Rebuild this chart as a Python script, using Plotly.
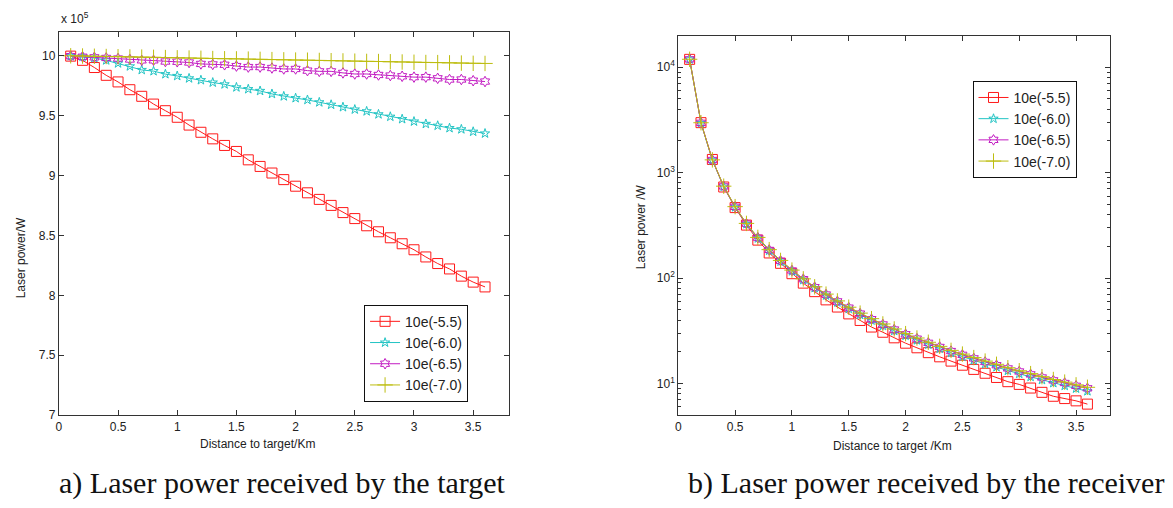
import plotly.graph_objects as go

# ---------------- data ----------------
distance_km = [round(0.1 * i, 1) for i in range(1, 37)]
series_names = ["10e(-5.5)", "10e(-6.0)", "10e(-6.5)", "10e(-7.0)"]

# (a) Laser power received by the target, in units of 1e5 W
target_55 = [9.995, 9.96, 9.90, 9.835, 9.78, 9.715, 9.66, 9.595, 9.54, 9.485,
             9.42, 9.36, 9.305, 9.25, 9.20, 9.13, 9.075, 9.02, 8.965, 8.91,
             8.855, 8.80, 8.75, 8.69, 8.64, 8.58, 8.53, 8.48, 8.43, 8.38,
             8.32, 8.265, 8.22, 8.16, 8.11, 8.07]
target_60 = [9.995, 9.99, 9.98, 9.96, 9.935, 9.91, 9.88, 9.87, 9.845, 9.83,
             9.81, 9.795, 9.775, 9.76, 9.735, 9.72, 9.705, 9.68, 9.66, 9.645,
             9.63, 9.61, 9.59, 9.57, 9.55, 9.535, 9.51, 9.49, 9.47, 9.45,
             9.43, 9.415, 9.395, 9.385, 9.365, 9.35]
target_65 = [9.995, 9.99, 9.985, 9.98, 9.975, 9.967, 9.96, 9.96, 9.95, 9.948,
             9.942, 9.93, 9.926, 9.923, 9.912, 9.904, 9.904, 9.896, 9.888, 9.888,
             9.874, 9.868, 9.868, 9.855, 9.846, 9.846, 9.838, 9.833, 9.827, 9.82,
             9.82, 9.81, 9.80, 9.80, 9.79, 9.783]
target_70 = [9.998, 9.996, 9.994, 9.992, 9.990, 9.988, 9.987, 9.985, 9.983, 9.981,
             9.979, 9.977, 9.975, 9.973, 9.972, 9.970, 9.968, 9.966, 9.964, 9.962,
             9.961, 9.959, 9.957, 9.955, 9.953, 9.951, 9.950, 9.948, 9.946, 9.944,
             9.942, 9.941, 9.939, 9.937, 9.935, 9.934]

# (b) Laser power received by the receiver, W
recv_55 = [11880, 2980, 1334, 731, 466, 318, 229, 173, 138, 110,
           89.5, 74.3, 62.1, 53.1, 45.7, 39.6, 34.3, 30.6, 27.1, 24.1,
           21.8, 19.6, 17.9, 16.3, 14.9, 13.6, 12.5, 11.4, 10.4, 9.8,
           9.05, 8.24, 7.56, 7.19, 6.84, 6.37]
recv_60 = [11870, 2960, 1311, 736, 470, 325, 238, 182, 143.5, 116,
           95.9, 80.4, 68.4, 58.8, 51.1, 44.8, 39.6, 35.2, 31.5, 28.4,
           25.7, 23.4, 21.4, 19.5, 17.95, 16.6, 15.3, 14.3, 13.2, 12.35,
           11.55, 10.8, 10.1, 9.5, 8.95, 8.45]
recv_65 = [11890, 2970, 1318, 741, 474, 328, 241.5, 184.8, 145.9, 118.1,
           97.6, 81.9, 69.8, 60.1, 52.4, 46.0, 40.7, 36.3, 32.5, 29.3,
           26.6, 24.3, 22.2, 20.3, 18.7, 17.3, 16.0, 14.9, 13.9, 13.0,
           12.2, 11.4, 10.7, 10.1, 9.5, 9.0]
recv_70 = [11900, 2975, 1322, 744, 476, 330, 243, 186, 147, 119,
           98.3, 82.6, 70.4, 60.7, 52.9, 46.5, 41.2, 36.7, 32.9, 29.7,
           27.0, 24.6, 22.5, 20.6, 19.0, 17.6, 16.3, 15.2, 14.1, 13.2,
           12.4, 11.6, 10.9, 10.3, 9.7, 9.2]

x_ticks = [0, 0.5, 1, 1.5, 2, 2.5, 3, 3.5]
y_ticks_a = [7, 7.5, 8, 8.5, 9, 9.5, 10]
y_ticks_b = [10, 100, 1000, 10000]
y_ticktext_b = ["10<sup>1</sup>", "10<sup>2</sup>", "10<sup>3</sup>", "10<sup>4</sup>"]

# ---------------- styles ----------------
colors = ["#FF1A1A", "#22C4C4", "#C21BC2", "#BDBD10"]
symbols = ["square-open", "star-open", "hexagram-open", "cross-thin-open"]
msizes = [10, 7, 8, 11]

fig = go.Figure()
left_series = [target_55, target_60, target_65, target_70]
right_series = [recv_55, recv_60, recv_65, recv_70]

for i, (name, ys) in enumerate(zip(series_names, left_series)):
    fig.add_trace(go.Scatter(
        x=distance_km, y=ys, name=name, mode="lines+markers",
        line=dict(color=colors[i], width=1),
        marker=dict(symbol=symbols[i], size=msizes[i], color=colors[i],
                    line=dict(color=colors[i], width=1)),
        xaxis="x", yaxis="y", legend="legend"))

for i, (name, ys) in enumerate(zip(series_names, right_series)):
    fig.add_trace(go.Scatter(
        x=distance_km, y=ys, name=name, mode="lines+markers",
        line=dict(color=colors[i], width=1),
        marker=dict(symbol=symbols[i], size=msizes[i], color=colors[i],
                    line=dict(color=colors[i], width=1)),
        xaxis="x2", yaxis="y2", legend="legend2"))

W, H = 1173, 508
tick_font = dict(family="Liberation Sans, Arial", size=12, color="#222")
axis_common = dict(showline=True, linecolor="#333", linewidth=1, mirror="allticks",
                   ticks="inside", ticklen=5, tickcolor="#333", showgrid=False,
                   zeroline=False, tickfont=tick_font)
legend_font = dict(family="Liberation Sans, Arial", size=14, color="#222")

fig.update_layout(
    width=W, height=H, margin=dict(l=0, r=0, t=0, b=0),
    paper_bgcolor="white", plot_bgcolor="white",
    xaxis=dict(domain=[56 / W, 507 / W], range=[0, 3.8], tickvals=x_ticks,
               anchor="y", **axis_common),
    yaxis=dict(domain=[(H - 421) / H, (H - 32) / H], range=[7, 10.2],
               tickvals=y_ticks_a, anchor="x", **axis_common),
    xaxis2=dict(domain=[677 / W, 1110 / W], range=[0, 3.8], tickvals=x_ticks,
                anchor="y2", **axis_common),
    yaxis2=dict(domain=[(H - 421) / H, (H - 36) / H], type="log",
                range=[0.69897, 4.30103], tickvals=y_ticks_b, ticktext=y_ticktext_b,
                minor=dict(ticks="inside", ticklen=3, tickcolor="#333", dtick="D1"),
                anchor="x2", **axis_common),
    legend=dict(x=362 / W, y=(H - 309) / H, xanchor="left", yanchor="top",
                bordercolor="#111", borderwidth=1, bgcolor="white", font=legend_font),
    legend2=dict(x=972 / W, y=(H - 82) / H, xanchor="left", yanchor="top",
                 bordercolor="#111", borderwidth=1, bgcolor="white", font=legend_font),
    showlegend=True,
)

small = dict(family="Liberation Sans, Arial", size=12, color="#222")
serif = dict(family="Liberation Serif, Times New Roman", size=30, color="#111")
annotations = [
    dict(x=56 / W, y=(H - 18) / H, text="x 10<sup>5</sup>", font=small,
         xanchor="left", yanchor="middle"),
    dict(x=18 / W, y=(H - 261) / H, text="Laser power/W", font=small, textangle=-90,
         xanchor="center", yanchor="middle"),
    dict(x=255 / W, y=(H - 450) / H, text="Distance to target/Km", font=small,
         xanchor="center", yanchor="middle"),
    dict(x=639 / W, y=(H - 230) / H, text="Laser power /W", font=small, textangle=-90,
         xanchor="center", yanchor="middle"),
    dict(x=892 / W, y=(H - 452) / H, text="Distance to target /Km", font=small,
         xanchor="center", yanchor="middle"),
    dict(x=280 / W, y=(H - 490) / H, text="a) Laser power received by the target",
         font=serif, xanchor="center", yanchor="middle"),
    dict(x=925 / W, y=(H - 490) / H, text="b) Laser power received by the receiver",
         font=serif, xanchor="center", yanchor="middle"),
]
for a in annotations:
    a.update(xref="paper", yref="paper", showarrow=False)
fig.update_layout(annotations=annotations)

fig.write_html("out.html")
